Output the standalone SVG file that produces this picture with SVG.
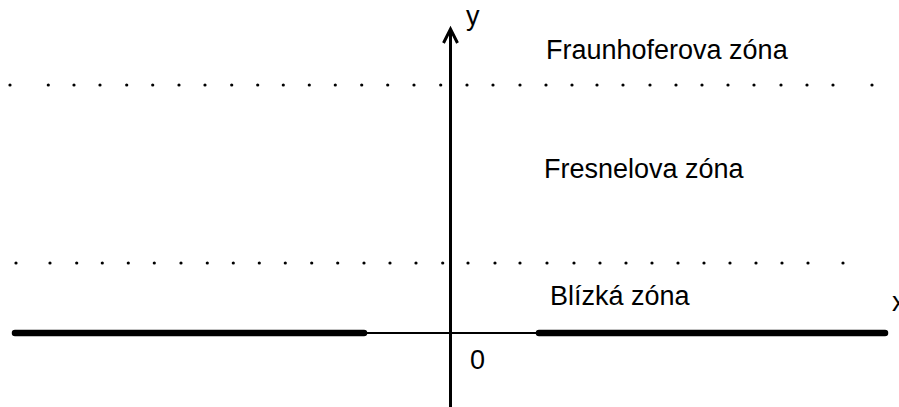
<svg xmlns="http://www.w3.org/2000/svg" width="899" height="407" viewBox="0 0 899 407">
<style>
.t{font-family:"Liberation Sans",Arial,sans-serif;font-size:27px;fill:#000}
.d{fill:#000}
</style>
<rect width="899" height="407" fill="#fff"/>
<g id="dots-top" class="d">
<circle cx="10" cy="85" r="1.6"/><circle cx="48.3" cy="85" r="1.6"/><circle cx="74" cy="85" r="1.6"/><circle cx="100" cy="85" r="1.6"/><circle cx="126.7" cy="85" r="1.6"/><circle cx="152.7" cy="85" r="1.6"/><circle cx="179" cy="85" r="1.6"/><circle cx="205" cy="85" r="1.6"/><circle cx="231.7" cy="85" r="1.6"/><circle cx="257.7" cy="85" r="1.6"/><circle cx="283.3" cy="85" r="1.6"/><circle cx="309.3" cy="85" r="1.6"/><circle cx="335.3" cy="85" r="1.6"/><circle cx="361.7" cy="85" r="1.6"/><circle cx="387.7" cy="85" r="1.6"/><circle cx="414" cy="85" r="1.6"/><circle cx="440.7" cy="85" r="1.6"/>
<circle cx="467" cy="85" r="1.6"/><circle cx="493" cy="85" r="1.6"/><circle cx="520" cy="85" r="1.6"/><circle cx="546" cy="85" r="1.6"/><circle cx="572" cy="85" r="1.6"/><circle cx="597" cy="85" r="1.6"/><circle cx="623" cy="85" r="1.6"/><circle cx="650" cy="85" r="1.6"/><circle cx="676" cy="85" r="1.6"/><circle cx="702" cy="85" r="1.6"/><circle cx="728" cy="85" r="1.6"/><circle cx="754" cy="85" r="1.6"/><circle cx="781" cy="85" r="1.6"/><circle cx="807" cy="85" r="1.6"/><circle cx="833" cy="85" r="1.6"/><circle cx="872" cy="85" r="1.6"/>
</g>
<g id="dots-bottom" class="d">
<circle cx="16" cy="263" r="1.6"/><circle cx="50" cy="263" r="1.6"/><circle cx="76.7" cy="263" r="1.6"/><circle cx="102.3" cy="263" r="1.6"/><circle cx="128.3" cy="263" r="1.6"/><circle cx="154.3" cy="263" r="1.6"/><circle cx="181" cy="263" r="1.6"/><circle cx="207.3" cy="263" r="1.6"/><circle cx="233.3" cy="263" r="1.6"/><circle cx="259.3" cy="263" r="1.6"/><circle cx="285.3" cy="263" r="1.6"/><circle cx="311.7" cy="263" r="1.6"/><circle cx="337.7" cy="263" r="1.6"/><circle cx="364" cy="263" r="1.6"/><circle cx="390" cy="263" r="1.6"/><circle cx="416" cy="263" r="1.6"/><circle cx="442.7" cy="263" r="1.6"/>
<circle cx="468" cy="263" r="1.6"/><circle cx="495" cy="263" r="1.6"/><circle cx="520" cy="263" r="1.6"/><circle cx="547" cy="263" r="1.6"/><circle cx="574" cy="263" r="1.6"/><circle cx="600" cy="263" r="1.6"/><circle cx="626" cy="263" r="1.6"/><circle cx="652" cy="263" r="1.6"/><circle cx="678" cy="263" r="1.6"/><circle cx="704" cy="263" r="1.6"/><circle cx="730" cy="263" r="1.6"/><circle cx="756" cy="263" r="1.6"/><circle cx="782" cy="263" r="1.6"/><circle cx="808" cy="263" r="1.6"/><circle cx="843" cy="263" r="1.6"/>
</g>
<g id="axes" fill="none" stroke="#000">
<line x1="12" y1="333" x2="888" y2="333" stroke-width="2"/>
<line x1="15" y1="333" x2="364" y2="333" stroke-width="6.5" stroke-linecap="round"/>
<line x1="539" y1="333" x2="885" y2="333" stroke-width="6.5" stroke-linecap="round"/>
<line x1="450.5" y1="30" x2="450.5" y2="407" stroke-width="3"/>
<polyline points="443.5,43 450.5,29 457.5,43" stroke-width="3" stroke-linejoin="miter"/>
</g>
<g id="labels">
<text class="t" x="466" y="25">y</text>
<text class="t" x="892" y="311">x</text>
<text class="t" x="470" y="369">0</text>
<text class="t" x="546" y="59">Fraunhoferova zóna</text>
<text class="t" x="544" y="178">Fresnelova zóna</text>
<text class="t" x="550" y="305">Blízká zóna</text>
</g>
</svg>
